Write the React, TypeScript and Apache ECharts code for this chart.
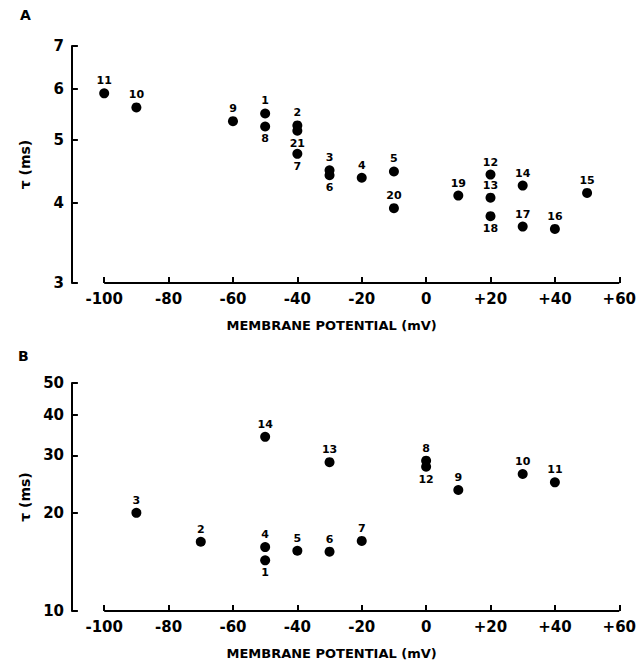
import React, { useEffect, useRef } from "react";
import * as echarts from "echarts";

const xTicks = [-100, -80, -60, -40, -20, 0, 20, 40, 60];
const yTicksA = [3, 4, 5, 6, 7];
const yTicksB = [10, 20, 30, 40, 50];

const idsA = [11, 10, 9, 1, 8, 2, 21, 7, 3, 6, 4, 5, 20, 19, 12, 13, 18, 14, 17, 16, 15];
const mvA = [-100, -90, -60, -50, -50, -40, -40, -40, -30, -30, -20, -10, -10, 10, 20, 20, 20, 30, 30, 40, 50];
const tauA = [5.91, 5.62, 5.35, 5.5, 5.25, 5.27, 5.17, 4.76, 4.49, 4.41, 4.37, 4.47, 3.92, 4.1, 4.42, 4.07, 3.81, 4.25, 3.67, 3.64, 4.14];
const belowA = [8, 21, 7, 6, 18];

const idsB = [3, 2, 14, 4, 1, 5, 13, 6, 7, 8, 12, 9, 10, 11];
const mvB = [-90, -70, -50, -50, -50, -40, -30, -30, -20, 0, 0, 10, 30, 40];
const tauB = [20.0, 16.3, 34.2, 15.7, 14.3, 15.3, 28.6, 15.2, 16.4, 28.9, 27.7, 23.5, 26.3, 24.8];
const belowB = [1, 12];

const FONT = "DejaVu Sans";
const X_MIN = -110;
const X_MAX = 60;
const GRID_W = 558;
const TICK_PX = 6;
const lg = (v: number) => Math.log10(v);

function xAxisFor(gridIndex: number) {
  return {
    type: "value",
    gridIndex,
    min: X_MIN,
    max: X_MAX,
    axisLine: { show: false, onZero: false },
    axisTick: { show: false },
    axisLabel: {
      customValues: xTicks,
      formatter: (v: number) => (v > 0 ? "+" + v : String(v)),
      color: "#000",
      fontFamily: FONT,
      fontWeight: "bold",
      fontSize: 15,
      margin: 8,
    },
    splitLine: { show: false },
    name: "MEMBRANE POTENTIAL (mV)",
    nameLocation: "middle",
    nameGap: 36,
    nameTextStyle: { color: "#000", fontFamily: FONT, fontWeight: "bold", fontSize: 13, padding: [0, 28, 0, 0] },
  };
}

function yAxisFor(gridIndex: number, ticks: number[]) {
  const tv = ticks.map(lg);
  return {
    type: "value",
    gridIndex,
    min: lg(ticks[0]),
    max: lg(ticks[ticks.length - 1]),
    axisLine: { show: true, onZero: false, lineStyle: { color: "#000", width: 2 } },
    axisTick: { show: false },
    axisLabel: {
      customValues: tv,
      formatter: (v: number) => String(Math.round(Math.pow(10, v))),
      color: "#000",
      fontFamily: FONT,
      fontWeight: "bold",
      fontSize: 15,
      margin: 8,
    },
    splitLine: { show: false },
    name: "τ (ms)",
    nameLocation: "middle",
    nameGap: 40,
    nameTextStyle: { color: "#000", fontFamily: FONT, fontWeight: "bold", fontSize: 14 },
  };
}

function seriesFor(
  idx: number,
  ids: number[],
  mv: number[],
  tau: number[],
  below: number[],
  yTicks: number[],
  gridH: number
) {
  const yMin = lg(yTicks[0]);
  const yMax = lg(yTicks[yTicks.length - 1]);
  const dy = ((yMax - yMin) * TICK_PX) / gridH;
  const dx = ((X_MAX - X_MIN) * TICK_PX) / GRID_W;
  const xTickSegs = xTicks.map((t) => [{ coord: [t, yMin] }, { coord: [t, yMin + dy] }]);
  const yTickSegs = yTicks.map((t) => [{ coord: [X_MIN, lg(t)] }, { coord: [X_MIN + dx, lg(t)] }]);
  return {
    type: "scatter",
    xAxisIndex: idx,
    yAxisIndex: idx,
    symbol: "circle",
    symbolSize: 10,
    itemStyle: { color: "#000", opacity: 1 },
    label: {
      show: true,
      formatter: "{b}",
      color: "#000",
      fontFamily: FONT,
      fontWeight: "bold",
      fontSize: 11,
      distance: 2,
    },
    data: mv.map((x, i) => ({
      name: String(ids[i]),
      value: [x, lg(tau[i])],
      label: { position: below.includes(ids[i]) ? "bottom" : "top" },
    })),
    markLine: {
      silent: true,
      symbol: "none",
      label: { show: false },
      lineStyle: { color: "#000", width: 2, type: "solid", opacity: 1 },
      data: [[{ coord: [xTicks[0], yMin] }, { coord: [xTicks[xTicks.length - 1], yMin] }], ...xTickSegs, ...yTickSegs],
    },
  };
}

export default function App() {
  const ref = useRef<HTMLDivElement>(null);
  useEffect(() => {
    document.body.style.margin = "0";
    if (!ref.current) return;
    const chart = echarts.init(ref.current, null, { renderer: "svg" });
    chart.setOption({
      animation: false,
      backgroundColor: "#fff",
      grid: [
        { left: 72, top: 46, width: GRID_W, height: 237 },
        { left: 72, top: 383, width: GRID_W, height: 228 },
      ],
      xAxis: [xAxisFor(0), xAxisFor(1)],
      yAxis: [yAxisFor(0, yTicksA), yAxisFor(1, yTicksB)],
      series: [
        seriesFor(0, idsA, mvA, tauA, belowA, yTicksA, 237),
        seriesFor(1, idsB, mvB, tauB, belowB, yTicksB, 228),
      ],
      graphic: [
        { type: "text", left: 20, top: 8, style: { text: "A", fill: "#000", font: `bold 14px "${FONT}"` } },
        { type: "text", left: 18, top: 349, style: { text: "B", fill: "#000", font: `bold 14px "${FONT}"` } },
      ],
    });
    return () => chart.dispose();
  }, []);
  return <div ref={ref} style={{ width: 639, height: 665 }} />;
}
